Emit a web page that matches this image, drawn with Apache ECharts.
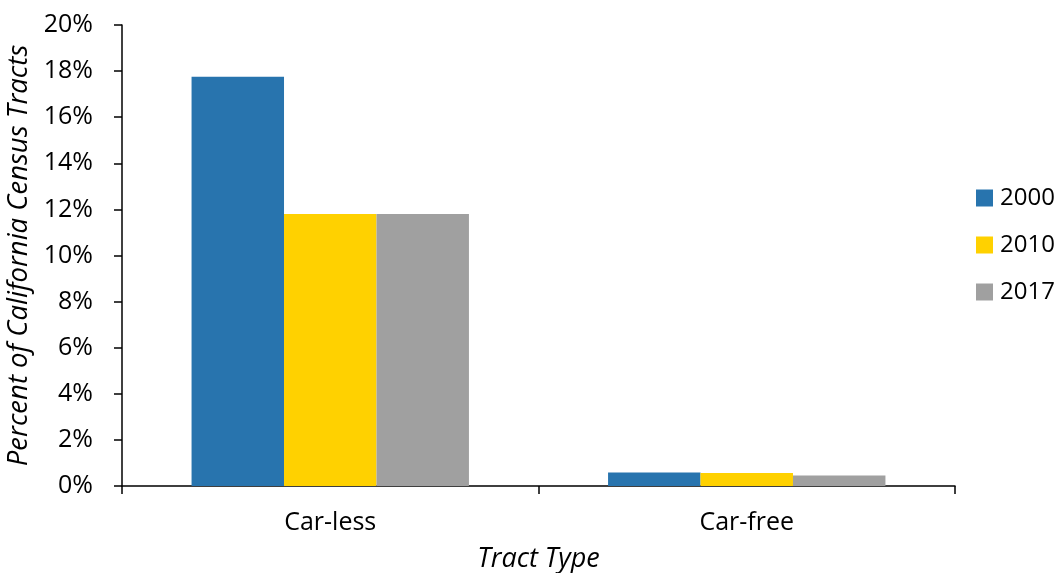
<!DOCTYPE html>
<html>
<head>
<meta charset="utf-8">
<script src="https://cdn.jsdelivr.net/npm/echarts@6/dist/echarts.min.js"></script>
<style>
  html, body { margin: 0; padding: 0; background: #fff; }
  #chart { width: 1056px; height: 573px; }
</style>
</head>
<body>
<div id="chart"></div>
<script>
// tract types and share of census tracts (%)
const categories = ['Car-less', 'Car-free'];
const years = ['2000', '2010', '2017'];
const values2000 = [17.75, 0.59];
const values2010 = [11.8, 0.56];
const values2017 = [11.8, 0.46];
const colors = ['#2874AE', '#FFD100', '#A0A0A0'];

const font = 'Open Sans, Noto Sans, sans-serif';
const chart = echarts.init(document.getElementById('chart'));

const seriesData = [values2000, values2010, values2017];

chart.setOption({
    animation: false,
    textStyle: { fontFamily: font },
    grid: { left: 122, right: 101, top: 25, bottom: 87, containLabel: false, outerBoundsMode: 'none' },
    legend: {
        orient: 'vertical',
        left: 971,
        top: 181,
        icon: 'rect',
        itemWidth: 17,
        itemHeight: 17,
        itemGap: 23,
        textStyle: { fontSize: 24, color: '#000', fontFamily: font, padding: [0, 0, 0, 2] },
        data: years
    },
    xAxis: {
        type: 'category',
        data: categories,
        name: 'Tract Type',
        nameLocation: 'middle',
        nameGap: 60,
        nameTextStyle: { fontSize: 27, fontStyle: 'italic', color: '#000', fontFamily: font },
        axisLine: { lineStyle: { color: '#000', width: 1.5 } },
        axisTick: { show: true, length: 8, lineStyle: { color: '#000', width: 1.5 } },
        axisLabel: { fontSize: 25, color: '#000', margin: 24 }
    },
    yAxis: {
        type: 'value',
        min: 0,
        max: 20,
        interval: 2,
        name: 'Percent of California Census Tracts',
        nameLocation: 'middle',
        nameGap: 80,
        nameTextStyle: { fontSize: 27.5, fontStyle: 'italic', color: '#000', fontFamily: font },
        axisLine: { show: true, lineStyle: { color: '#000', width: 1.5 } },
        axisTick: { show: true, length: 8, lineStyle: { color: '#000', width: 1.5 } },
        splitLine: { show: false },
        axisLabel: { fontSize: 25, color: '#000', margin: 29, formatter: '{value}%' }
    },
    series: years.map((y, i) => ({
        name: y,
        type: 'bar',
        data: seriesData[i],
        barGap: '0%',
        barCategoryGap: '33.4%',
        itemStyle: { color: colors[i] }
    }))
});
</script>
</body>
</html>
